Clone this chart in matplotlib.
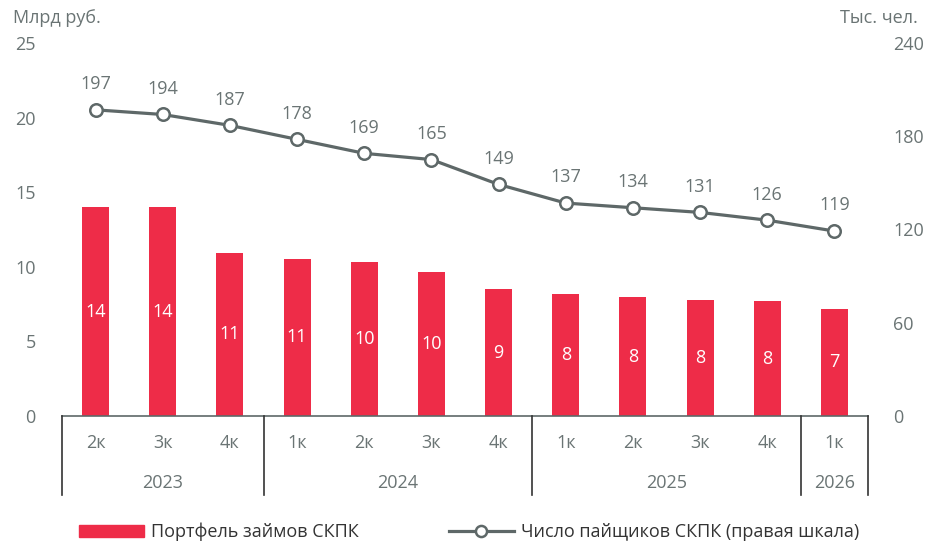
import matplotlib
matplotlib.use('Agg')
from matplotlib import pyplot as plt
from matplotlib.lines import Line2D
from matplotlib.patches import Patch

plt.rcParams['font.family'] = ['Open Sans', 'DejaVu Sans']

QUARTERS = ['2к', '3к', '4к', '1к', '2к', '3к', '4к', '1к', '2к', '3к', '4к', '1к']
YEARS = ['2023', '2024', '2025', '2026']
YEAR_SPANS = [3, 4, 4, 1]  # quarters per year

PORTFOLIO = [14.0, 14.0, 10.95, 10.55, 10.35, 9.65, 8.5, 8.2, 7.95, 7.8, 7.7, 7.2]
PORTFOLIO_LABELS = ['14', '14', '11', '11', '10', '10', '9', '8', '8', '8', '8', '7']
MEMBERS = [197, 194, 187, 178, 169, 165, 149, 137, 134, 131, 126, 119]

BAR_COLOR = '#EE2C48'
LINE_COLOR = '#5E6868'
TEXT_COLOR = '#6A7474'

fig = plt.figure(figsize=(9.38, 5.43), dpi=100)
ax = fig.add_axes([62 / 938, 1 - 416 / 543, 806 / 938, 373 / 543])
ax2 = ax.twinx()

x = list(range(len(QUARTERS)))
ax.bar(x, PORTFOLIO, width=0.4, color=BAR_COLOR, zorder=2)
for xi, v, lab in zip(x, PORTFOLIO, PORTFOLIO_LABELS):
    ax.text(xi, v / 2, lab, ha='center', va='center', color='white', fontsize=13)

ax2.plot(x, MEMBERS, color=LINE_COLOR, lw=2.3, marker='o', ms=9,
         markerfacecolor='white', markeredgecolor=LINE_COLOR, markeredgewidth=1.8, zorder=3)
for xi, v in zip(x, MEMBERS):
    ax2.annotate(str(v), (xi, v), xytext=(0, 12), textcoords='offset points',
                 ha='center', va='bottom', color=TEXT_COLOR, fontsize=13)

ax.set_xlim(-0.5, len(x) - 0.5)
ax.set_ylim(0, 25)
ax2.set_ylim(0, 240)
ax.set_yticks([0, 5, 10, 15, 20, 25])
ax2.set_yticks([0, 60, 120, 180, 240])
ax.tick_params(axis='y', length=0, pad=19, labelsize=13, labelcolor=TEXT_COLOR)
ax2.tick_params(axis='y', length=0, pad=18, labelsize=13, labelcolor=TEXT_COLOR)
ax.set_xticks([])

for a in (ax, ax2):
    for s in ('top', 'left', 'right', 'bottom'):
        a.spines[s].set_visible(False)

# two-level category axis drawn below the plot
trans = ax.get_xaxis_transform()
ax.plot([-0.5, len(x) - 0.5], [0, 0], transform=trans, color=LINE_COLOR, lw=1.2, clip_on=False)
for xi, q in zip(x, QUARTERS):
    ax.text(xi, -0.072, q, transform=trans, ha='center', va='center', fontsize=13, color=TEXT_COLOR)
start = -0.5
ax.plot([start, start], [0, -0.213], transform=trans, color='#333333', lw=1.2, clip_on=False)
for year, span in zip(YEARS, YEAR_SPANS):
    end = start + span
    ax.text((start + end) / 2, -0.18, year, transform=trans, ha='center', va='center',
            fontsize=13, color=TEXT_COLOR)
    ax.plot([end, end], [0, -0.213], transform=trans, color='#333333', lw=1.2, clip_on=False)
    start = end

fig.text(13 / 938, 1 - 18 / 543, 'Млрд руб.', ha='left', va='center', fontsize=13, color=TEXT_COLOR)
fig.text(918 / 938, 1 - 18 / 543, 'Тыс. чел.', ha='right', va='center', fontsize=13, color=TEXT_COLOR)

handles = [Patch(color=BAR_COLOR),
           Line2D([0], [0], color=LINE_COLOR, lw=2.3, marker='o', ms=8,
                  markerfacecolor='white', markeredgecolor=LINE_COLOR, markeredgewidth=1.8)]
fig.legend(handles, ['Портфель займов СКПК', 'Число пайщиков СКПК (правая шкала)'],
           loc='center', bbox_to_anchor=(0.5, 1 - 532 / 543), ncol=2, frameon=False,
           fontsize=13, labelcolor='#333333', handlelength=3.6, handleheight=0.7,
           columnspacing=5, handletextpad=0.4, borderpad=0)

fig.savefig('out.png', dpi=100)
